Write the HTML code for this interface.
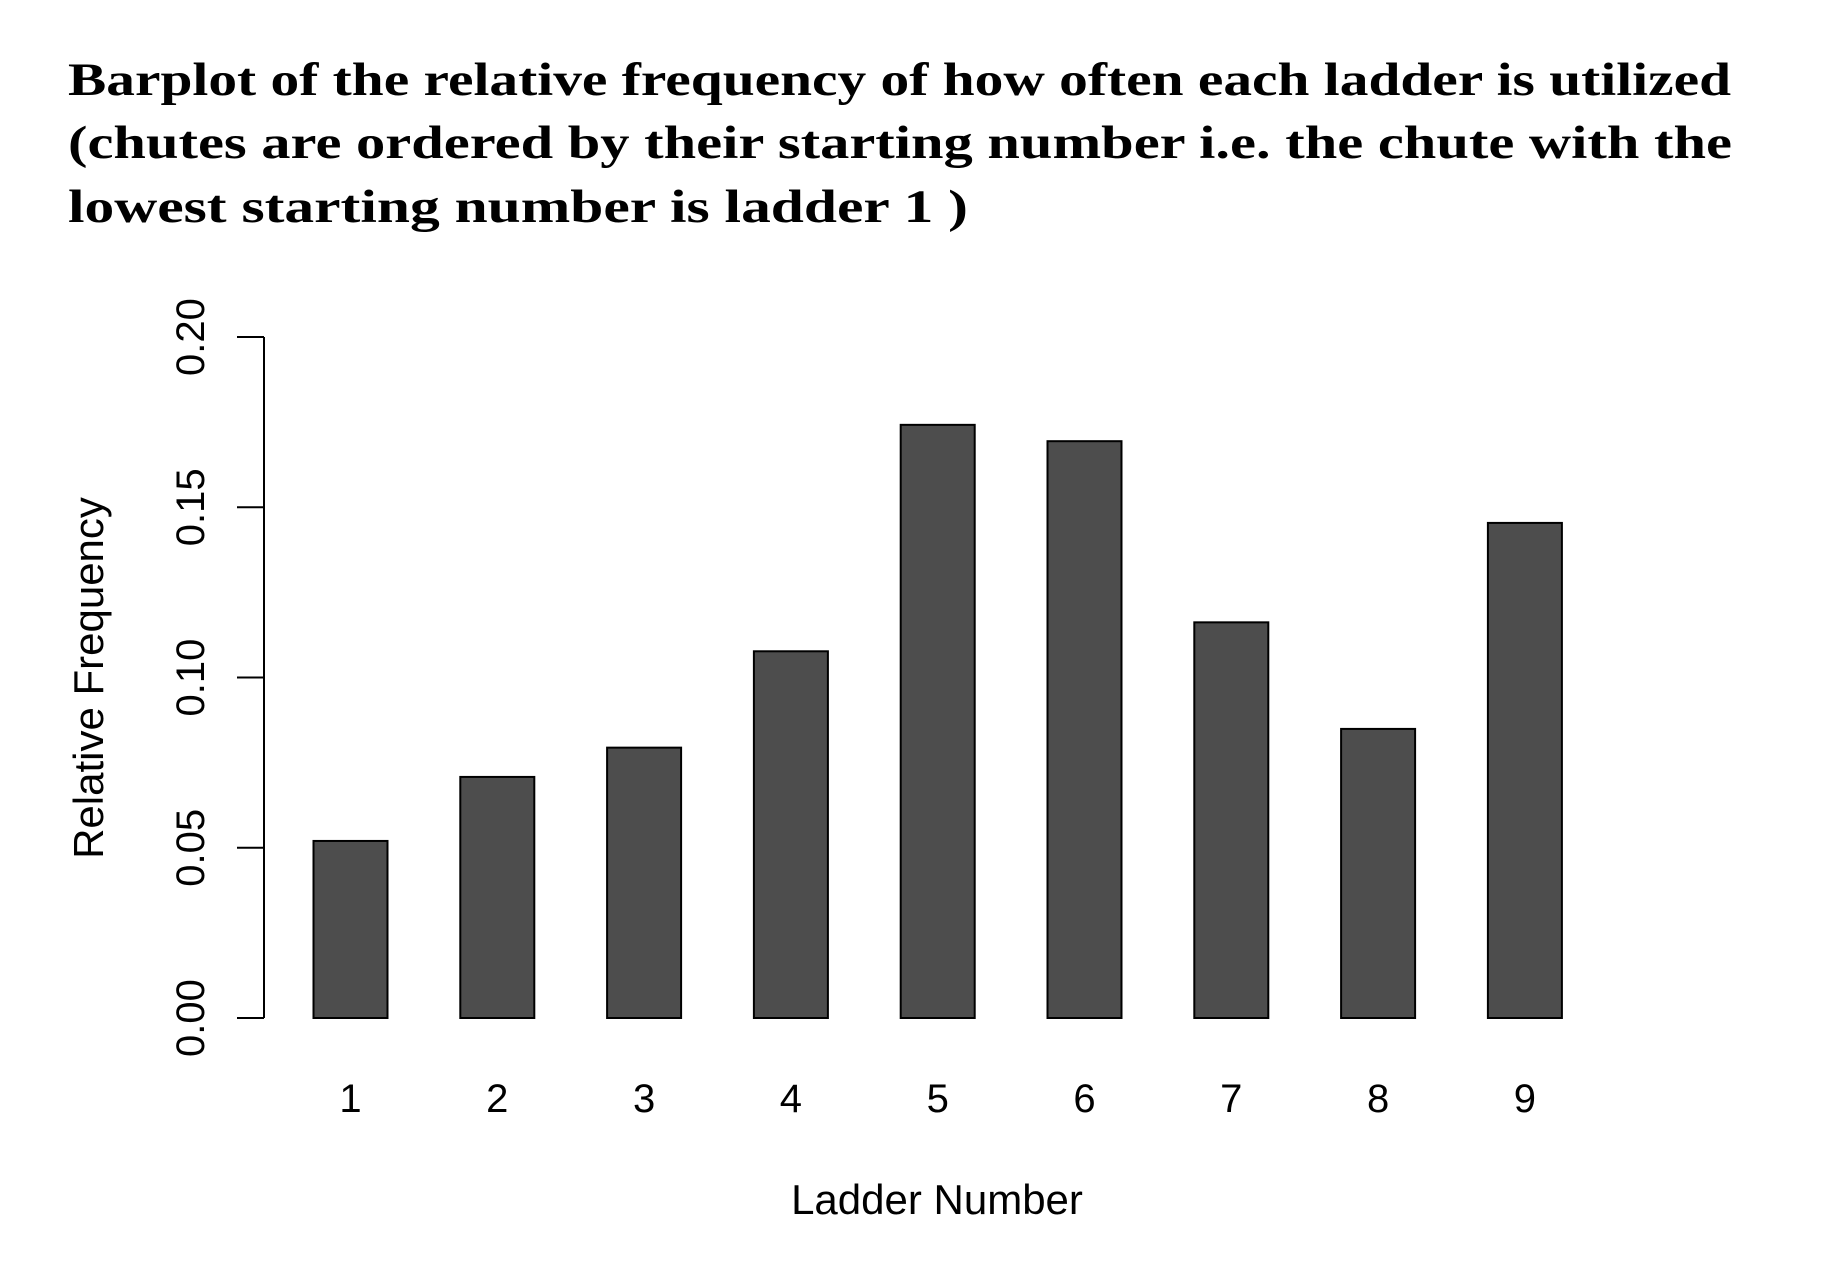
<!DOCTYPE html>
<html><head><meta charset="utf-8"><style>
html,body{margin:0;padding:0;background:#fff;}
svg{display:block;}
</style></head><body>
<svg width="1834" height="1264" viewBox="0 0 1834 1264" xmlns="http://www.w3.org/2000/svg">
<g font-family="'Liberation Serif', serif" font-weight="bold" font-size="47" fill="#000">
<text x="68" y="95" textLength="1663" lengthAdjust="spacingAndGlyphs">Barplot of the relative frequency of how often each ladder is utilized</text>
<text x="68" y="158" textLength="1664" lengthAdjust="spacingAndGlyphs">(chutes are ordered by their starting number i.e. the chute with the</text>
<text x="68" y="222" textLength="900" lengthAdjust="spacingAndGlyphs">lowest starting number is ladder 1 )</text>
</g>
<g id="plot"></g>
</svg>
<script>
const categories = ["1","2","3","4","5","6","7","8","9"];
const values = [0.052, 0.0708, 0.0794, 0.1077, 0.1742, 0.1694, 0.1162, 0.0849, 0.1454];
const yTicks = [0, 0.05, 0.10, 0.15, 0.20];
const yTickLabels = ["0.00","0.05","0.10","0.15","0.20"];

const NS = "http://www.w3.org/2000/svg";
const plot = document.getElementById('plot');
const y0 = 1018, y1 = 337, yMax = 0.2;
function yScale(v){ return y0 - (v / yMax) * (y0 - y1); }
const firstLeft = 313.5, step = 146.8, barW = 74;
function xLeft(i){ return firstLeft + i * step; }
function mk(tag, attrs){ const e = document.createElementNS(NS, tag); for (const k in attrs) e.setAttribute(k, attrs[k]); plot.appendChild(e); return e; }

values.forEach((v, i) => {
  const r = mk('rect', {x: xLeft(i), y: yScale(v), width: barW, height: yScale(0) - yScale(v), fill: '#4d4d4d', stroke: '#000', 'stroke-width': 2});
  
  
  const t = mk('text', {x: xLeft(i) + barW / 2, y: 1112, 'text-anchor': 'middle', 'font-family': 'Liberation Sans, sans-serif', 'font-size': 40});
  t.textContent = categories[i];
  
  
});

const axis = mk('line', {x1: 264, y1: yScale(0), x2: 264, y2: yScale(0.2), stroke: '#000', 'stroke-width': 2});


yTicks.forEach((v, i) => {
  const tk = mk('line', {x1: 237, y1: yScale(v), x2: 264, y2: yScale(v), stroke: '#000', 'stroke-width': 2});
  
  
  const yy = yScale(v);
  const t = mk('text', {x: 204, y: yy, 'text-anchor': 'middle', transform: 'rotate(-90 204 ' + yy + ')', 'font-family': 'Liberation Sans, sans-serif', 'font-size': 40});
  t.textContent = yTickLabels[i];
  
  
});

const xt = mk('text', {x: 937, y: 1214, 'text-anchor': 'middle', 'font-family': 'Liberation Sans, sans-serif', 'font-size': 42});
xt.textContent = 'Ladder Number';


const yt = mk('text', {x: 103, y: 678, 'text-anchor': 'middle', transform: 'rotate(-90 103 678)', 'font-family': 'Liberation Sans, sans-serif', 'font-size': 42});
yt.textContent = 'Relative Frequency';


</script>
</body></html>
